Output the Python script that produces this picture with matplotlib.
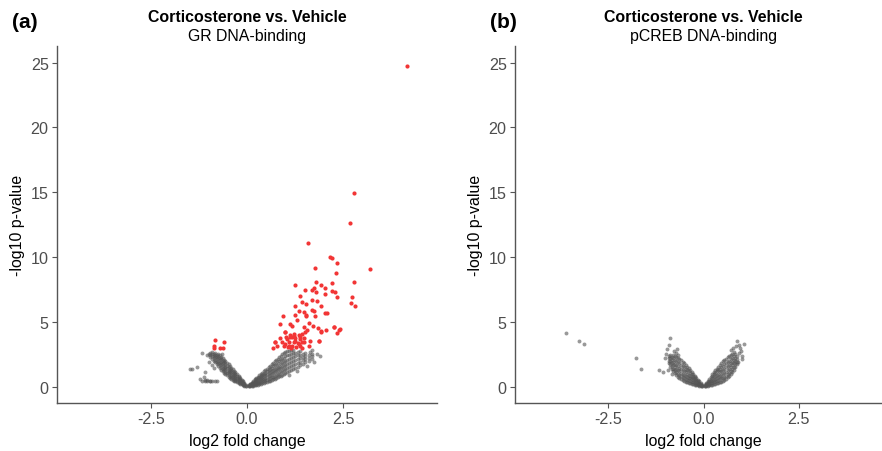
import matplotlib.pyplot as plt
import numpy as np

# ---- data ----
# significant points (red), panel (a)
gr_sig_x = [4.17, 2.79, 2.67, 1.59, 3.20, 2.16, 2.20, 2.34, 1.78, 2.32, 2.79, 1.26,
            1.79, 1.92, 2.20, 2.03, 1.51, 1.69, 1.73, 2.22, 2.28, 2.04, 1.80, 1.38,
            2.35, 2.74, 1.25, 1.44, 1.53, 1.70, 1.83, 2.70, 2.82, 1.92, 1.35, 1.49,
            1.68, 1.73, 1.54, 2.03, 2.09, 0.94, 1.25, 1.54, 1.78, 1.29, 1.61, 0.85,
            1.13, 1.18, 1.47, 1.71, 1.84, 2.25, 2.39, 2.35, 1.92, 0.98, 1.12, 1.21,
            1.34, 1.43, 1.51, 1.57, 0.85, 1.02, 1.05, 1.18, 1.26, 1.38, 1.49, 1.88,
            0.73, 0.91, 1.09, 1.21, 1.32, 1.42, 0.79, 0.95, 1.06, 1.17, 1.28, 1.37,
            1.61, 0.68, 1.15, 1.44, 0.74, 0.99, 1.21, 1.38, 1.63, 1.08, 1.34, 1.47,
            1.86, 1.92, 2.05, 2.27, 2.41, 1.00, 1.24, 1.12,
            -0.84, -0.59, -0.86, -0.86, -0.69, -0.63]
gr_sig_y = [24.75, 14.96, 12.60, 11.08, 9.05, 10.00, 9.92, 9.54, 9.18, 8.77, 8.07, 7.84,
            8.10, 7.87, 7.97, 7.63, 7.46, 7.43, 7.63, 7.35, 7.30, 7.15, 7.28, 7.02,
            6.92, 6.92, 6.20, 6.55, 6.35, 6.71, 6.61, 6.45, 6.25, 6.20, 5.86, 5.78,
            5.91, 5.84, 5.53, 5.71, 5.68, 5.43, 5.53, 5.45, 5.48, 5.12, 4.91, 4.83,
            4.83, 4.70, 4.58, 4.70, 4.50, 4.58, 4.37, 4.12, 4.29, 4.19, 3.99, 4.09,
            3.99, 4.09, 4.19, 4.35, 3.73, 3.86, 3.68, 3.81, 3.73, 3.68, 3.73, 3.55,
            3.47, 3.47, 3.42, 3.47, 3.37, 3.42, 3.16, 3.11, 3.04, 3.16, 3.04, 3.11,
            3.11, 2.96, 2.96, 2.96, 3.47, 4.19, 3.93, 3.81, 3.55, 3.11, 3.29, 3.42,
            3.55, 4.24, 4.37, 4.58, 4.45, 3.30, 3.55, 3.80,
            3.62, 3.47, 3.14, 2.96, 2.96, 2.96]

# non-significant points (grey), grouped as (log2FC, [-log10 p values])
gr_left = [(-0.03, [0.03, 0.07, 0.11]),
           (-0.07, [0.06, 0.11, 0.16, 0.22, 0.27]),
           (-0.11, [0.12, 0.18, 0.25, 0.32, 0.40]),
           (-0.14, [0.17, 0.25, 0.33, 0.41, 0.50]),
           (-0.18, [0.22, 0.31, 0.40, 0.50, 0.60, 0.70]),
           (-0.22, [0.27, 0.37, 0.48, 0.59, 0.71, 0.83]),
           (-0.26, [0.34, 0.45, 0.57, 0.70, 0.84, 0.97]),
           (-0.30, [0.40, 0.52, 0.65, 0.79, 0.94, 1.10]),
           (-0.33, [0.47, 0.60, 0.74, 0.89, 1.05, 1.22]),
           (-0.37, [0.55, 0.68, 0.83, 0.99, 1.16, 1.33]),
           (-0.41, [0.62, 0.77, 0.93, 1.10, 1.28, 1.47]),
           (-0.44, [0.70, 0.86, 1.03, 1.21, 1.40, 1.60]),
           (-0.48, [0.78, 0.95, 1.13, 1.32, 1.52, 1.72]),
           (-0.52, [0.88, 1.05, 1.24, 1.43, 1.63, 1.83]),
           (-0.56, [0.98, 1.16, 1.35, 1.55, 1.75, 1.96]),
           (-0.60, [1.08, 1.27, 1.47, 1.67, 1.87, 2.08]),
           (-0.63, [1.20, 1.39, 1.59, 1.79, 1.99, 2.20]),
           (-0.67, [1.32, 1.52, 1.72, 1.92, 2.12, 2.32]),
           (-0.71, [1.45, 1.65, 1.85, 2.04, 2.23, 2.42]),
           (-0.75, [1.60, 1.80, 1.99, 2.18, 2.37, 2.55]),
           (-0.79, [1.72, 1.92, 2.12, 2.31, 2.48]),
           (-0.83, [1.88, 2.07, 2.26, 2.44, 2.62]),
           (-0.87, [2.00, 2.20, 2.38, 2.55]),
           (-0.91, [2.15, 2.33, 2.50, 2.66]),
           (-0.96, [2.30, 2.45, 2.58]),
           (-0.98, [1.90]), (-1.00, [2.55]), (-0.92, [1.70]), (-0.85, [1.45]),
           (-1.04, [2.45]), (-0.66, [2.55]), (-1.17, [2.57]), (-1.30, [1.50]),
           (-1.43, [1.36]), (-1.47, [1.36]), (-1.13, [0.75]), (-1.21, [0.60]),
           (-1.08, [1.13]), (-1.17, [0.44]), (-1.10, [0.50, 0.42]), (-1.03, [0.46, 0.52]),
           (-0.96, [0.40, 0.47]), (-0.90, [0.44]), (-0.84, [0.40]), (-0.78, [0.46])]
gr_right = [(0.04, [0.02, 0.06, 0.10]),
            (0.08, [0.04, 0.09, 0.14, 0.19, 0.22]),
            (0.12, [0.06, 0.12, 0.19, 0.26, 0.32]),
            (0.16, [0.08, 0.16, 0.25, 0.34, 0.42]),
            (0.20, [0.10, 0.19, 0.29, 0.39, 0.48, 0.56]),
            (0.24, [0.13, 0.23, 0.34, 0.45, 0.56, 0.66]),
            (0.28, [0.16, 0.27, 0.39, 0.51, 0.64, 0.76]),
            (0.32, [0.19, 0.31, 0.44, 0.58, 0.72, 0.87]),
            (0.36, [0.22, 0.35, 0.50, 0.65, 0.81, 0.97]),
            (0.40, [0.26, 0.40, 0.56, 0.72, 0.90, 1.08]),
            (0.44, [0.30, 0.45, 0.62, 0.80, 0.99, 1.18]),
            (0.48, [0.34, 0.50, 0.68, 0.88, 1.09, 1.30]),
            (0.52, [0.38, 0.55, 0.75, 0.96, 1.18, 1.40]),
            (0.56, [0.42, 0.60, 0.81, 1.04, 1.27, 1.50]),
            (0.60, [0.47, 0.66, 0.88, 1.12, 1.37, 1.62]),
            (0.64, [0.52, 0.72, 0.95, 1.20, 1.46, 1.72]),
            (0.68, [0.57, 0.78, 1.02, 1.28, 1.56, 1.84]),
            (0.72, [0.62, 0.84, 1.10, 1.37, 1.66, 1.95]),
            (0.76, [0.68, 0.91, 1.17, 1.45, 1.75, 2.06]),
            (0.80, [0.74, 0.98, 1.25, 1.54, 1.85, 2.16]),
            (0.84, [0.80, 1.05, 1.33, 1.63, 1.95, 2.28]),
            (0.88, [0.86, 1.12, 1.41, 1.72, 2.05, 2.38]),
            (0.92, [0.92, 1.19, 1.49, 1.81, 2.15, 2.50]),
            (0.96, [0.98, 1.26, 1.57, 1.90, 2.24, 2.60]),
            (1.00, [1.05, 1.34, 1.65, 1.99, 2.34, 2.70]),
            (1.05, [1.12, 1.42, 1.74, 2.08, 2.42, 2.74]),
            (1.10, [1.20, 1.50, 1.83, 2.16, 2.48, 2.78]),
            (1.15, [1.28, 1.58, 1.91, 2.24, 2.54, 2.80]),
            (1.20, [1.36, 1.66, 1.98, 2.30, 2.58, 2.82]),
            (1.26, [1.45, 1.75, 2.06, 2.36, 2.62]),
            (1.32, [1.55, 1.84, 2.14, 2.42, 2.68]),
            (1.38, [1.64, 1.93, 2.22, 2.48, 2.72]),
            (1.45, [1.75, 2.03, 2.30, 2.55]),
            (1.52, [1.88, 2.14, 2.38, 2.60]),
            (1.60, [2.00, 2.22, 2.45]),
            (1.70, [2.15, 2.35, 2.52]),
            (1.75, [1.90]), (1.82, [2.55]), (1.65, [2.70]), (1.90, [2.40]),
            (1.55, [1.60]), (1.30, [1.20]), (1.10, [0.90]), (1.68, [2.82])]

# panel (b)
creb_left = [(-0.03, [0.03, 0.07, 0.11]),
             (-0.07, [0.05, 0.10, 0.15, 0.21, 0.27]),
             (-0.11, [0.08, 0.15, 0.23, 0.31, 0.40]),
             (-0.15, [0.10, 0.20, 0.30, 0.41, 0.52]),
             (-0.19, [0.13, 0.24, 0.36, 0.49, 0.64]),
             (-0.23, [0.16, 0.29, 0.43, 0.58, 0.72, 0.86]),
             (-0.27, [0.19, 0.34, 0.50, 0.67, 0.84, 1.00]),
             (-0.31, [0.22, 0.38, 0.56, 0.75, 0.95, 1.14]),
             (-0.35, [0.26, 0.43, 0.63, 0.84, 1.06, 1.28]),
             (-0.39, [0.30, 0.48, 0.69, 0.92, 1.17, 1.42]),
             (-0.43, [0.34, 0.54, 0.76, 1.01, 1.28, 1.55]),
             (-0.47, [0.38, 0.60, 0.84, 1.10, 1.39, 1.68]),
             (-0.51, [0.43, 0.66, 0.92, 1.20, 1.50, 1.80]),
             (-0.55, [0.48, 0.72, 1.00, 1.30, 1.61, 1.92]),
             (-0.59, [0.56, 0.80, 1.08, 1.38, 1.70, 2.02]),
             (-0.63, [0.66, 0.90, 1.17, 1.47, 1.79, 2.10]),
             (-0.67, [0.78, 1.01, 1.28, 1.57, 1.88, 2.20]),
             (-0.71, [0.90, 1.13, 1.39, 1.67, 1.97, 2.28]),
             (-0.75, [1.02, 1.25, 1.51, 1.78, 2.07, 2.36]),
             (-0.79, [1.18, 1.40, 1.65, 1.91, 2.18, 2.44]),
             (-0.83, [1.34, 1.56, 1.80, 2.04, 2.26]),
             (-0.87, [1.55, 1.76, 1.98, 2.22, 2.45]),
             (-0.91, [1.80, 2.00, 2.20, 2.38]),
             (-0.88, [3.78]), (-0.95, [2.90]), (-0.78, [2.75]), (-0.72, [2.60]),
             (-0.66, [2.45]), (-0.98, [2.55]), (-1.00, [2.20]), (-0.92, [1.30]),
             (-0.82, [0.95]), (-0.90, [3.20]), (-0.70, [2.90]),
             (-3.60, [4.12]), (-3.27, [3.55]), (-3.13, [3.29]), (-1.77, [2.19]),
             (-1.65, [1.36]), (-1.16, [1.31]), (-1.05, [1.10])]
creb_right = [(0.03, [0.03, 0.08, 0.12]),
              (0.07, [0.05, 0.11, 0.17, 0.24, 0.30]),
              (0.11, [0.08, 0.16, 0.25, 0.34, 0.44]),
              (0.15, [0.10, 0.21, 0.32, 0.45, 0.58]),
              (0.19, [0.13, 0.26, 0.40, 0.55, 0.72]),
              (0.23, [0.16, 0.31, 0.47, 0.65, 0.84, 0.95]),
              (0.27, [0.19, 0.36, 0.54, 0.74, 0.96, 1.10]),
              (0.31, [0.22, 0.41, 0.61, 0.83, 1.06, 1.26]),
              (0.35, [0.26, 0.46, 0.68, 0.92, 1.17, 1.40]),
              (0.39, [0.30, 0.51, 0.75, 1.01, 1.28, 1.54]),
              (0.43, [0.34, 0.57, 0.83, 1.11, 1.40, 1.68]),
              (0.47, [0.38, 0.63, 0.91, 1.21, 1.52, 1.82]),
              (0.51, [0.44, 0.70, 0.99, 1.31, 1.63, 1.95]),
              (0.55, [0.50, 0.77, 1.08, 1.40, 1.73, 2.06]),
              (0.59, [0.60, 0.86, 1.16, 1.48, 1.82, 2.16]),
              (0.63, [0.72, 0.97, 1.26, 1.58, 1.92, 2.26]),
              (0.67, [0.85, 1.09, 1.37, 1.68, 2.01, 2.34]),
              (0.71, [1.00, 1.23, 1.50, 1.80, 2.12, 2.44]),
              (0.75, [1.15, 1.38, 1.64, 1.93, 2.24, 2.55]),
              (0.79, [1.32, 1.54, 1.79, 2.06, 2.36, 2.66]),
              (0.83, [1.50, 1.72, 1.96, 2.22, 2.50]),
              (0.87, [1.72, 1.92, 2.14, 2.40]),
              (0.89, [3.55]), (1.07, [3.30]), (0.85, [3.10]), (0.95, [3.00]), (0.98, [2.75]),
              (0.92, [2.60]), (1.00, [2.40]), (0.78, [2.95]), (0.72, [2.80]), (0.90, [1.90]),
              (1.02, [2.10]), (0.93, [3.25])]

xticks = [-2.5, 0.0, 2.5]
yticks = [0, 5, 10, 15, 20, 25]


def expand(groups):
    xs, ys = [], []
    for x, vals in groups:
        for v in vals:
            xs.append(x)
            ys.append(v)
    return np.array(xs), np.array(ys)


W, H = 882, 452
plt.rcParams["font.family"] = ["Liberation Sans", "DejaVu Sans"]
fig = plt.figure(figsize=(W / 100, H / 100), dpi=100)

grey = "#555555"
red = "#f23535"


def style_axes(ax):
    ax.set_xlim(-4.94, 4.94)
    ax.set_ylim(-1.26, 26.3)
    ax.set_xticks(xticks)
    ax.set_xticklabels([f"{t:.1f}" for t in xticks])
    ax.set_yticks(yticks)
    for side in ["top", "right"]:
        ax.spines[side].set_visible(False)
    for side in ["left", "bottom"]:
        ax.spines[side].set_color("#555555")
        ax.spines[side].set_linewidth(1.0)
    ax.tick_params(length=3.5, width=0.8, color="#555555", labelsize=11.6,
                   labelcolor="#4d4d4d", pad=2.5)
    ax.set_xlabel("log2 fold change", fontsize=11.4, labelpad=5)
    ax.set_ylabel("-log10 p-value", fontsize=11.4, labelpad=4)


def px_axes(left, top, right, bottom):
    return fig.add_axes([left / W, 1 - bottom / H, (right - left) / W, (bottom - top) / H])


ax_a = px_axes(57, 46.7, 437, 404)
ax_b = px_axes(515, 46.7, 892, 404)

for ax, groups in [(ax_a, gr_left + gr_right), (ax_b, creb_left + creb_right)]:
    gx, gy = expand(groups)
    ax.scatter(gx, gy, s=8, color=grey, alpha=0.6, linewidths=0)
ax_a.scatter(gr_sig_x, gr_sig_y, s=9, color=red, linewidths=0)

for ax, sub, tag, cx, tx in [(ax_a, "GR DNA-binding", "(a)", 247, 12),
                             (ax_b, "pCREB DNA-binding", "(b)", 703.5, 490)]:
    style_axes(ax)
    fig.text(cx / W, 1 - 17 / H, "Corticosterone vs. Vehicle", ha="center", va="center",
             fontsize=11.4, fontweight="bold")
    fig.text(cx / W, 1 - 36 / H, sub, ha="center", va="center", fontsize=11.4)
    fig.text(tx / W, 1 - 22 / H, tag, ha="left", va="center", fontsize=15,
             fontweight="bold")

fig.savefig("out.png", dpi=100)
